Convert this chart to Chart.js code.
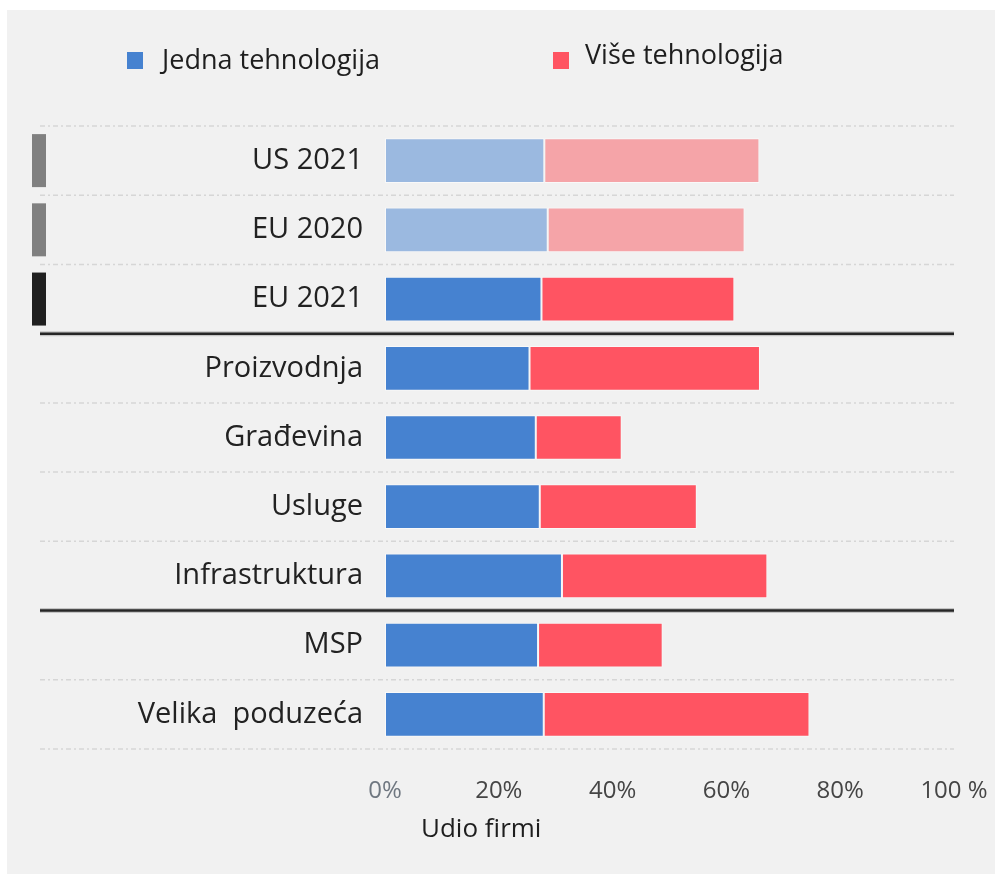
<!DOCTYPE html>
<html>
<head>
<meta charset="utf-8">
<script src="https://cdn.jsdelivr.net/npm/chart.js@4/dist/chart.umd.min.js"></script>
<style>
  html, body { margin: 0; padding: 0; background: #ffffff; }
  canvas { display: block; }
</style>
</head>
<body>
<canvas id="chart" width="995" height="874"></canvas>
<script>
// ---- data ----
const categories = ['US 2021', 'EU 2020', 'EU 2021', 'Proizvodnja', 'Građevina', 'Usluge', 'Infrastruktura', 'MSP', 'Velika  poduzeća'];
const singleTech = [28.0, 28.6, 27.5, 25.4, 26.5, 27.2, 31.1, 26.9, 27.9];
const multiTech  = [37.8, 34.6, 33.9, 40.5, 15.1, 27.6, 36.1, 21.9, 46.7];
const seriesNames = ['Jedna tehnologija', 'Više tehnologija'];
const xTickLabels = ['0%', '20%', '40%', '60%', '80%', '100 %'];
const xAxisTitle = 'Udio firmi';

// ---- styling ----
const FONT = '"Open Sans", "Noto Sans", sans-serif';
const BLUE = '#4682d0', RED = '#ff5462';
const BLUE_LIGHT = '#9bb9e0', RED_LIGHT = '#f5a4a8';
const referenceRows = [0, 1];                 // comparison rows drawn in lighter tones
const rowMarkers = { 0: '#808080', 1: '#808080', 2: '#202020' };
const groupBreaks = [2, 6];                   // solid rule drawn below these rows

const colorsFor = (base, light) => categories.map((_, i) => referenceRows.includes(i) ? light : base);

const decorations = {
  id: 'decorations',
  beforeDraw(chart) {
    const ctx = chart.ctx;
    ctx.save();
    ctx.fillStyle = '#ffffff';
    ctx.fillRect(0, 0, chart.width, chart.height);
    ctx.fillStyle = '#f1f1f1';
    ctx.fillRect(7, 10, chart.width - 7, chart.height - 10);
    ctx.restore();
  },
  beforeDatasetsDraw(chart) {
    const ctx = chart.ctx, y = chart.scales.y, area = chart.chartArea;
    const n = categories.length;
    const bounds = [];
    for (let i = 0; i <= n; i++) {
      let py;
      if (i === 0) py = area.top;
      else if (i === n) py = area.bottom;
      else py = (y.getPixelForValue(i - 1) + y.getPixelForValue(i)) / 2;
      bounds.push({ py, solid: groupBreaks.includes(i - 1) });
    }
    ctx.save();
    bounds.forEach(b => {
      ctx.beginPath();
      if (b.solid) {
        ctx.setLineDash([]);
        ctx.strokeStyle = 'rgba(0,0,0,0.18)';
        ctx.lineWidth = 5;
        ctx.moveTo(40, b.py); ctx.lineTo(area.right, b.py);
        ctx.stroke();
        ctx.beginPath();
        ctx.strokeStyle = '#262626';
        ctx.lineWidth = 2.5;
      } else {
        ctx.setLineDash([5, 3, 2, 3]);
        ctx.strokeStyle = '#d6d6d6';
        ctx.lineWidth = 1.5;
      }
      ctx.moveTo(40, b.py); ctx.lineTo(area.right, b.py);
      ctx.stroke();
    });
    ctx.restore();
  },
  afterDraw(chart) {
    const ctx = chart.ctx, y = chart.scales.y;
    ctx.save();
    // row markers on the left edge
    Object.keys(rowMarkers).forEach(k => {
      const py = y.getPixelForValue(Number(k));
      ctx.fillStyle = rowMarkers[k];
      ctx.fillRect(32, py - 26.5, 14, 53);
    });
    // legend
    const ds = chart.data.datasets;
    const items = [
      { sx: 127, sy: 52, tx: 162, ty: 61 },
      { sx: 553, sy: 52, tx: 585, ty: 56 }
    ];
    items.forEach((it, i) => {
      ctx.fillStyle = i === 0 ? BLUE : RED;
      ctx.fillRect(it.sx, it.sy, 16, 17);
      ctx.fillStyle = '#1e1e1e';
      ctx.font = '27px ' + FONT;
      ctx.textAlign = 'left';
      ctx.textBaseline = 'middle';
      ctx.fillText(ds[i].label, it.tx, it.ty);
    });
    // axis title
    ctx.fillStyle = '#1e1e1e';
    ctx.font = '26px ' + FONT;
    ctx.textAlign = 'left';
    ctx.textBaseline = 'middle';
    ctx.fillText(xAxisTitle, 421, 830);
    ctx.restore();
  }
};

new Chart(document.getElementById('chart'), {
  type: 'bar',
  data: {
    labels: categories,
    datasets: [
      {
        label: seriesNames[0],
        data: singleTech,
        backgroundColor: colorsFor(BLUE, BLUE_LIGHT),
        borderColor: 'rgba(255,255,255,0.55)',
        borderWidth: 1,
        borderSkipped: false
      },
      {
        label: seriesNames[1],
        data: multiTech,
        backgroundColor: colorsFor(RED, RED_LIGHT),
        borderColor: 'rgba(255,255,255,0.55)',
        borderWidth: 1,
        borderSkipped: false
      }
    ]
  },
  options: {
    indexAxis: 'y',
    responsive: false,
    animation: false,
    devicePixelRatio: 1,
    barPercentage: 0.646,
    categoryPercentage: 1,
    layout: { padding: { left: 0, right: 41, top: 126, bottom: 0 } },
    plugins: {
      legend: { display: false },
      tooltip: { enabled: false }
    },
    scales: {
      x: {
        stacked: true,
        min: 0,
        max: 100,
        grid: { display: false, drawTicks: false },
        border: { display: false },
        ticks: {
          stepSize: 20,
          padding: 28,
          font: { family: FONT, size: 24 },
          color: ctx => ctx.index === 0 ? '#6f7780' : '#454545',
          callback: (v) => xTickLabels[Math.round(v / 20)]
        },
        afterFit: s => { s.height = 125; s.paddingLeft = 0; s.paddingRight = 0; }
      },
      y: {
        stacked: true,
        grid: { display: false, drawTicks: false },
        border: { display: false },
        ticks: {
          padding: 22,
          font: { family: FONT, size: 29 },
          color: '#222222'
        },
        afterFit: s => { s.width = 385; s.paddingTop = 0; s.paddingBottom = 0; }
      }
    }
  },
  plugins: [decorations]
});
</script>
</body>
</html>
